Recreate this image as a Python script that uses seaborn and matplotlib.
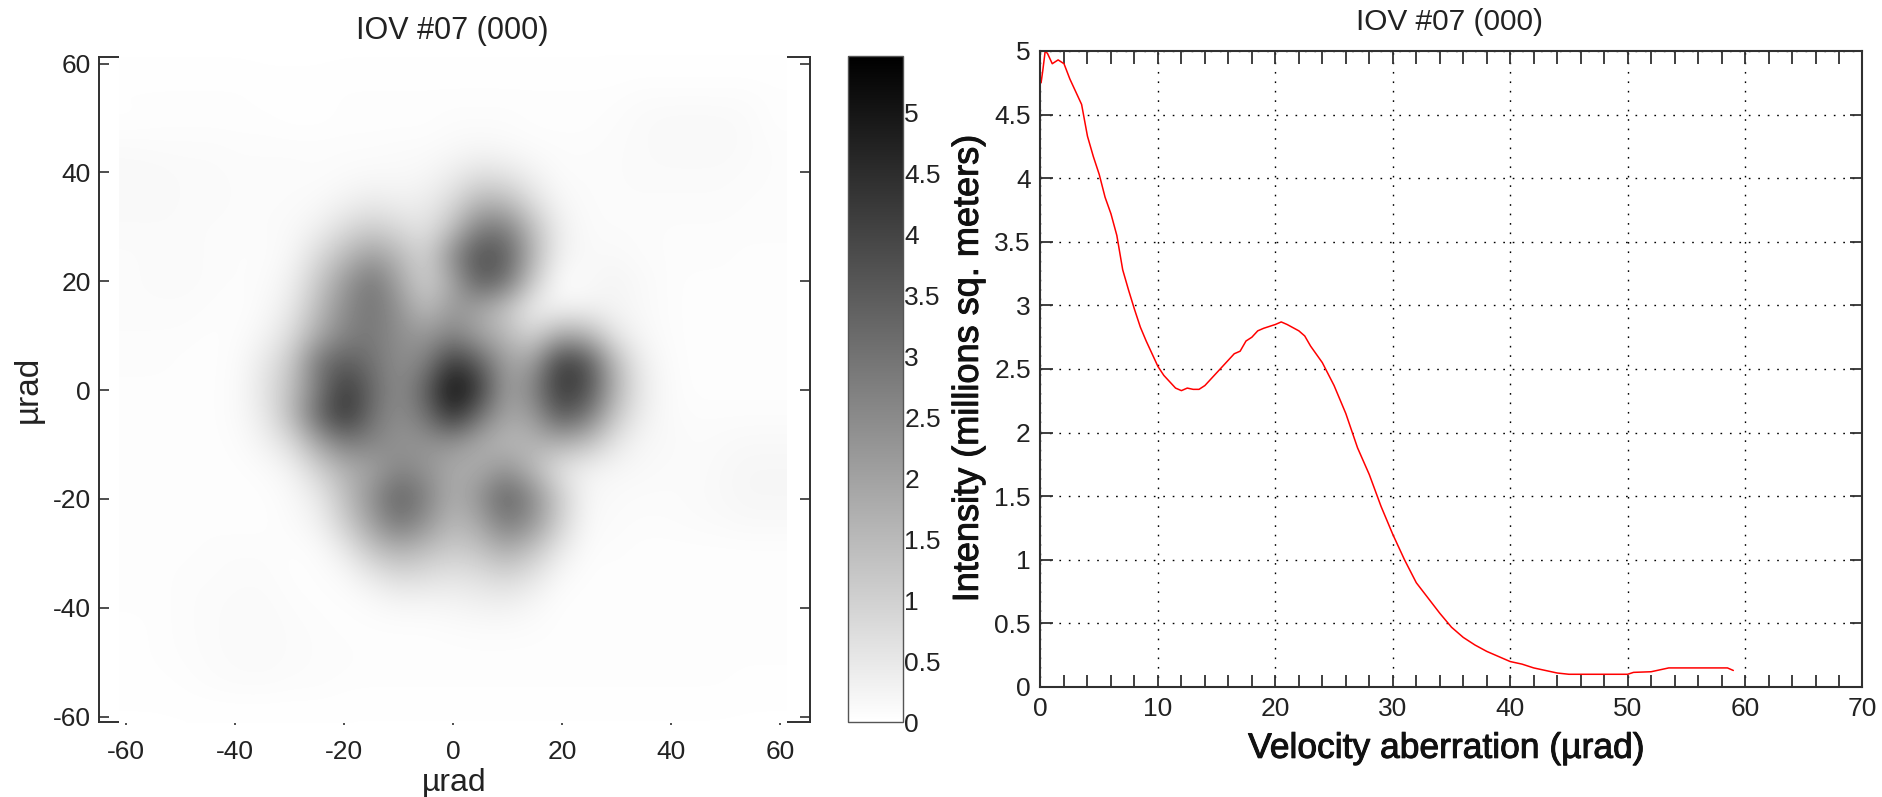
import numpy as np
import pandas as pd
import matplotlib
matplotlib.use('Agg')
import matplotlib.pyplot as plt
import matplotlib.patheffects as pe
import seaborn as sns

# radial profile
aberration = [0.05, 0.2, 0.4, 0.6, 1, 1.5, 2, 2.5, 3, 3.5, 4, 4.5, 5, 5.5, 6, 6.5, 7, 7.5, 8, 8.5, 9, 10, 10.5, 11,
              11.5, 12, 12.5, 13, 13.5, 14, 15, 16, 16.5, 17, 17.5, 18, 18.5, 19, 20, 20.5, 21, 22, 22.5, 23, 24,
              25, 26, 27, 28, 29, 30, 31, 32, 33, 34, 35, 36, 37, 38, 39, 40, 41, 42, 43, 44, 45, 50, 50.5, 52,
              52.5, 53.5, 58.5, 59]
intensity = [4.75, 4.85, 5.0, 4.98, 4.9, 4.93, 4.9, 4.78, 4.68, 4.58, 4.33, 4.17, 4.03, 3.85, 3.72, 3.55, 3.28, 3.12,
             2.97, 2.83, 2.72, 2.52, 2.45, 2.4, 2.35, 2.33, 2.35, 2.34, 2.34, 2.37, 2.47, 2.57, 2.62, 2.64, 2.72,
             2.75, 2.8, 2.82, 2.85, 2.87, 2.85, 2.8, 2.76, 2.68, 2.55, 2.37, 2.15, 1.88, 1.67, 1.42, 1.2, 1.0, 0.82,
             0.7, 0.58, 0.47, 0.39, 0.33, 0.28, 0.24, 0.2, 0.18, 0.15, 0.13, 0.11, 0.1, 0.1, 0.115, 0.12, 0.13,
             0.15, 0.15, 0.13]

# beam map, one row every 5 urad from +60 down to -60, columns -60 to +60
beam_map = [
    [.02,.02,.02,.02,.02,.02,.02,.02,.02,.02,.02,.02,.02,.02,.02,.02,.02,.02,.02,.02,.02,.02,.02,.02,.02],
    [.05,.05,.05,.05,.05,.03,.03,.03,.05,.05,.05,.05,.05,.05,.05,.05,.05,.05,.05,.08,.08,.08,.08,.08,.05],
    [.03,.05,.05,.05,.05,.05,.03,.03,.05,.05,.05,.05,.08,.08,.08,.05,.05,.05,.08,.12,.15,.15,.15,.12,.05],
    [.12,.1,.1,.1,.08,.08,.08,.08,.08,.08,.1,.1,.15,.2,.15,.1,.08,.08,.1,.12,.15,.15,.15,.12,.08],
    [.15,.15,.12,.12,.1,.1,.1,.08,.12,.15,.15,.2,.4,.7,.6,.3,.1,.1,.1,.12,.12,.12,.12,.1,.08],
    [.15,.15,.12,.12,.1,.1,.1,.15,.3,.45,.35,.4,.8,1.6,1.5,.7,.2,.1,.1,.1,.1,.1,.1,.08,.08],
    [.12,.12,.12,.1,.1,.1,.15,.35,.8,1.1,.8,.6,1.4,2.8,2.8,1.4,.35,.12,.1,.1,.08,.08,.08,.08,.08],
    [.1,.12,.12,.1,.08,.08,.2,.8,1.5,2.1,1.5,.9,2.5,3.8,3.5,1.6,.3,.15,.15,.1,.08,.08,.08,.05,.05],
    [.1,.12,.12,.1,.08,.1,.35,1.2,2.2,3.0,1.9,1.0,1.9,3.5,3.0,1.1,.05,.12,.25,.15,.08,.05,.05,.05,.05],
    [.1,.1,.1,.08,.05,.15,.5,1.5,2.5,3.0,2.3,1.4,2.2,1.9,1.2,.35,.25,.3,.25,.15,.08,.05,.05,.05,.05],
    [.08,.08,.08,.05,.08,.25,.8,1.9,2.7,2.9,2.4,2.2,2.7,2.0,1.5,.9,1.9,1.7,.6,.2,.08,.05,.05,.05,.05],
    [.08,.08,.05,.05,.1,.5,1.2,3.0,3.5,3.0,2.4,2.7,4.3,3.4,2.0,2.0,4.2,3.8,1.6,.4,.1,.05,.05,.05,.05],
    [.05,.05,.05,.05,.12,.6,1.4,2.9,4.3,3.2,2.4,3.4,5.3,4.2,2.0,2.6,4.3,3.9,1.8,.5,.12,.05,.05,.05,.05],
    [.05,.05,.05,.05,.12,.5,1.5,3.3,4.4,3.0,2.4,3.0,4.5,3.0,1.9,2.1,3.6,3.0,1.3,.4,.12,.08,.08,.08,.08],
    [.05,.05,.05,.05,.08,.3,.8,2.0,2.8,2.6,2.3,2.3,2.3,1.8,1.5,1.6,1.7,1.4,.6,.2,.15,.1,.12,.15,.15],
    [.05,.05,.05,.05,.05,.1,.3,1.0,1.7,2.0,2.6,2.3,1.8,1.8,2.3,1.5,.6,.3,.2,.15,.12,.1,.15,.2,.2],
    [.05,.05,.05,.05,.05,.05,.15,.5,1.4,2.4,3.4,2.7,1.7,2.3,3.4,2.5,1.1,.2,.12,.1,.1,.12,.15,.2,.2],
    [.05,.05,.05,.05,.05,.05,.1,.3,1.1,2.1,3.0,2.3,1.5,1.9,2.9,2.3,1.0,.15,.1,.08,.08,.1,.12,.15,.15],
    [.05,.05,.05,.08,.08,.08,.05,.1,.5,1.3,1.7,1.4,1.1,1.3,1.8,1.3,.5,.08,.08,.05,.05,.05,.05,.05,.05],
    [.05,.05,.08,.08,.1,.1,.05,.05,.15,.5,.8,.7,.6,.7,.9,.6,.15,.05,.05,.05,.05,.05,.05,.05,.05],
    [.05,.05,.08,.1,.12,.12,.08,.05,.05,.12,.22,.22,.25,.32,.35,.2,.05,.05,.05,.05,.05,.05,.05,.05,.05],
    [.03,.05,.08,.1,.13,.13,.1,.08,.05,.05,.05,.05,.08,.1,.1,.08,.05,.05,.05,.05,.05,.05,.05,.05,.05],
    [.03,.05,.07,.1,.12,.13,.1,.08,.08,.05,.05,.05,.05,.05,.05,.05,.05,.05,.05,.05,.05,.05,.05,.05,.05],
    [.03,.03,.05,.08,.1,.1,.08,.08,.05,.05,.05,.05,.05,.05,.05,.05,.05,.05,.05,.05,.05,.05,.05,.03,.03],
    [.02,.02,.02,.02,.02,.02,.02,.02,.02,.02,.02,.02,.02,.02,.02,.02,.02,.02,.02,.02,.02,.02,.02,.02,.02],
]

map_ticks = [-60, -40, -20, 0, 20, 40, 60]
cbar_ticks = [0, 0.5, 1, 1.5, 2, 2.5, 3, 3.5, 4, 4.5, 5]
cbar_labels = ['0', '0.5', '1', '1.5', '2', '2.5', '3', '3.5', '4', '4.5', '5']
profile_xticks = [0, 10, 20, 30, 40, 50, 60, 70]
profile_xminor = [2, 4, 6, 8, 12, 14, 16, 18, 22, 24, 26, 28, 32, 34, 36, 38, 42, 44, 46, 48, 52, 54, 56, 58, 62, 64, 66, 68]
profile_yticks = [0, 0.5, 1, 1.5, 2, 2.5, 3, 3.5, 4, 4.5, 5]
title = 'IOV #07 (000)'

sns.set_theme(style='white')
plt.rcParams['font.family'] = ['Liberation Sans', 'DejaVu Sans']
plt.rcParams['axes.unicode_minus'] = False

W, H = 1883, 797
dark = '#303030'
bolder = [pe.withStroke(linewidth=0.7, foreground='#111111')]


def box(left, right, top, bottom):
    return [left / W, 1 - bottom / H, (right - left) / W, (bottom - top) / H]


fig = plt.figure(figsize=(W / 100, H / 100), dpi=100, facecolor='white')

# left panel, the map sits on top of the frame and hides most of it
ax = fig.add_axes(box(99, 810, 57, 722))
im = ax.imshow(beam_map, extent=[-61.3, 61.3, -61.2, 61.5], cmap='gray_r', vmin=0, vmax=5.46,
               interpolation='bicubic', aspect='auto', zorder=3, clip_on=False)
ax.set_xlim(-65, 65.5)
ax.set_ylim(-61, 61.2)
ax.set_xticks(map_ticks)
ax.set_yticks(map_ticks)
ax.tick_params(axis='y', direction='in', length=7, width=1.2, color=dark, labelsize=19,
               left=True, right=True, labelcolor='#222222', pad=6)
ax.tick_params(axis='x', direction='out', length=1.8, width=1.2, color=dark, labelsize=19,
               bottom=True, top=False, labelcolor='#222222', pad=11)
for s in ax.spines.values():
    s.set_linewidth(1.4)
    s.set_color(dark)
ax.set_title(title, fontsize=22, color='#222222', pad=13, x=0.497)
ax.set_xlabel('\u00b5rad', fontsize=23, color='#222222', labelpad=3)
ax.set_ylabel('\u00b5rad', fontsize=24, color='#222222', labelpad=6)

# colour bar
cax = fig.add_axes(box(848, 903, 56, 722))
cb = fig.colorbar(im, cax=cax)
cb.set_ticks(cbar_ticks)
cb.set_ticklabels(cbar_labels)
cax.tick_params(direction='in', length=5, width=1.2, color=dark, labelsize=19, labelcolor='#222222',
                left=True, right=True, pad=1)
cb.outline.set_linewidth(1.0)
cb.outline.set_edgecolor('#555555')

# right panel
ax2 = fig.add_axes(box(1040.5, 1862.5, 51, 687))
df = pd.DataFrame({'aberration': aberration, 'intensity': intensity})
sns.lineplot(data=df, x='aberration', y='intensity', color='red', linewidth=1.1, estimator=None, sort=False, ax=ax2)
ax2.set_xlim(0, 70)
ax2.set_ylim(0, 5)
ax2.set_xticks(profile_xticks)
ax2.set_xticks(profile_xminor, minor=True)
ax2.set_yticks(profile_yticks)
ax2.set_yticklabels(cbar_labels)
ax2.grid(True, which='major', color='black', linewidth=1.0, linestyle=(0, (1.2, 5.6)))
ax2.tick_params(which='both', direction='in', length=9, width=1.3, color=dark, labelsize=19, labelcolor='#222222',
                left=True, right=True, bottom=True, top=True, pad=7)
for s in ax2.spines.values():
    s.set_linewidth(1.5)
    s.set_color(dark)
ax2.set_title(title, fontsize=21.5, color='#222222', pad=15, x=0.497)
ax2.set_xlabel('Velocity aberration (\u00b5rad)', fontsize=25.5, color='#111111', labelpad=8, path_effects=bolder, x=0.494)
ax2.set_ylabel('Intensity (millions sq. meters)', fontsize=26, color='#111111', labelpad=6, path_effects=bolder)

plt.savefig('out.png', dpi=100)
